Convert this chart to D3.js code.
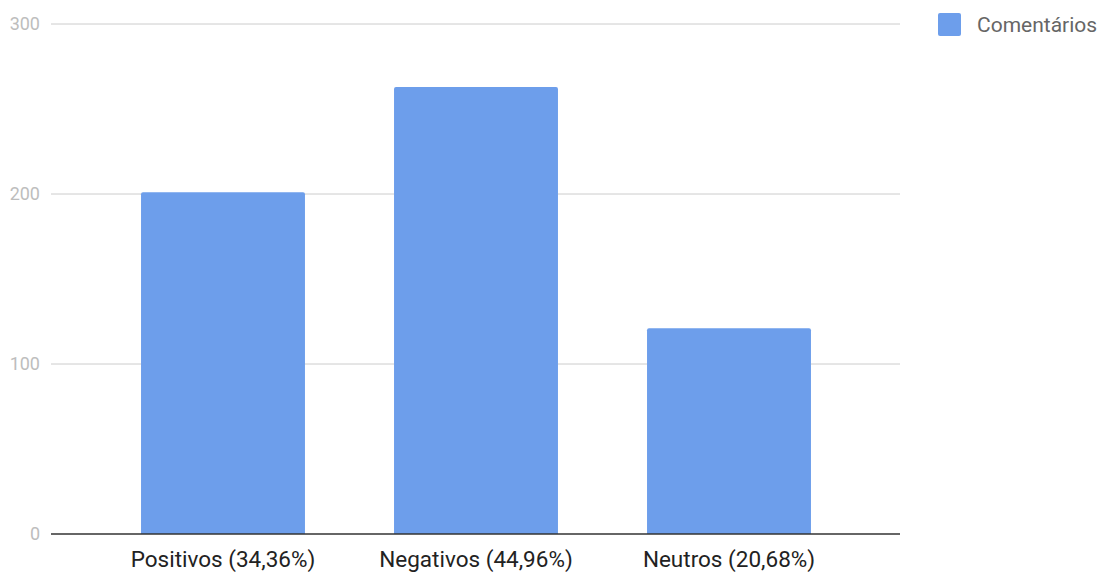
<!DOCTYPE html>
<html><head><meta charset="utf-8">
<script src="https://cdn.jsdelivr.net/npm/d3@7"></script>
<style>body{margin:0;background:#fff}svg{display:block;font-family:Roboto,"Noto Sans",sans-serif}</style>
</head><body>
<svg id="c" width="1102" height="574"></svg>
<script>
const categories = ["Positivos (34,36%)", "Negativos (44,96%)", "Neutros (20,68%)"];
const values = [201, 263, 121];
const yTicks = [0, 100, 200, 300];
const seriesName = "Comentários";

const svg = d3.select("#c");
const gridX0 = 51, gridX1 = 900;
const y = d3.scaleLinear().domain([0, 300]).range([534, 24]);
const x = d3.scaleBand().domain(categories).range([96.5, 855.5]).paddingInner(0.352).paddingOuter(0.176);

svg.append("g").selectAll("line").data(yTicks.filter(d => d > 0)).join("line")
  .attr("x1", gridX0).attr("x2", gridX1)
  .attr("y1", d => y(d)).attr("y2", d => y(d))
  .attr("stroke", "#cccccc").attr("stroke-width", 1);

svg.append("g").selectAll("text").data(yTicks).join("text")
  .attr("x", 40).attr("y", d => y(d)).attr("dy", "0.35em")
  .attr("text-anchor", "end").attr("font-size", 18).attr("fill", "#bdbdbd")
  .text(d => d);

const r = 2;
svg.append("g").selectAll("path").data(values).join("path")
  .attr("fill", "#6d9eeb")
  .attr("d", (d, i) => {
    const x0 = x(categories[i]), w = x.bandwidth(), yt = y(d), yb = y(0);
    return `M${x0},${yb}V${yt + r}Q${x0},${yt} ${x0 + r},${yt}H${x0 + w - r}Q${x0 + w},${yt} ${x0 + w},${yt + r}V${yb}Z`;
  });

svg.append("line").attr("x1", gridX0).attr("x2", gridX1)
  .attr("y1", y(0)).attr("y2", y(0)).attr("stroke", "#333").attr("stroke-width", 1.3);

svg.append("g").selectAll("text").data(categories).join("text")
  .attr("x", d => x(d) + x.bandwidth() / 2).attr("y", 567)
  .attr("text-anchor", "middle").attr("font-size", 22.5).attr("fill", "#222")
  .text(d => d);

svg.append("rect").attr("x", 938).attr("y", 13).attr("width", 23).attr("height", 23)
  .attr("rx", 2).attr("fill", "#6d9eeb");
svg.append("text").attr("x", 977).attr("y", 25).attr("dy", "0.35em")
  .attr("font-size", 21).attr("fill", "#666").text(seriesName);
</script>
</body></html>
